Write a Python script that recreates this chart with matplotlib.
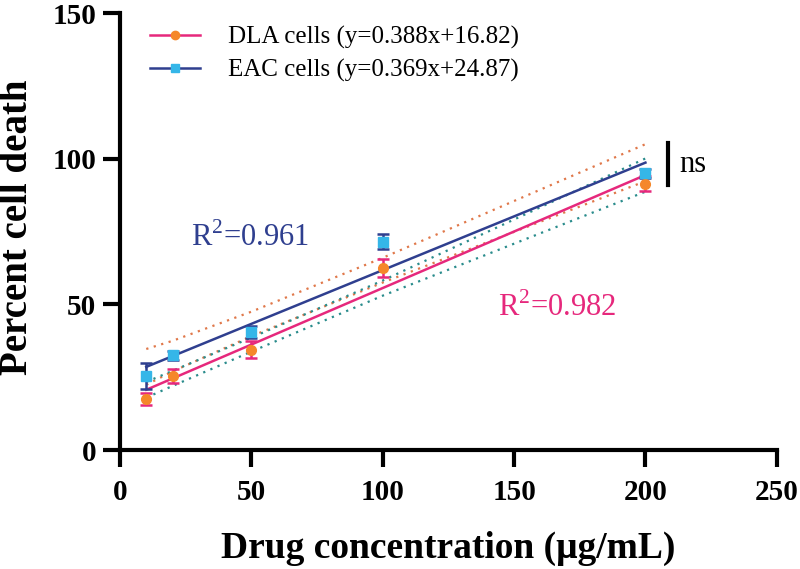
import matplotlib
matplotlib.use("Agg")

import numpy as np
import matplotlib.pyplot as plt

plt.rcParams["font.family"] = ["Liberation Serif", "DejaVu Serif"]
plt.rcParams["mathtext.fontset"] = "custom"
plt.rcParams["mathtext.rm"] = "Liberation Serif"

# ── data ─────────────────────────────────────────────────────────────
conc = [10, 20, 50, 100, 200]

dla_mean = [17.5, 25.5, 34.5, 62.5, 91.5]
dla_err = [2.0, 2.5, 3.0, 3.0, 2.5]
eac_mean = [25.5, 32.5, 40.5, 71.5, 95.0]
eac_err = [4.5, 1.5, 2.0, 2.5, 1.5]

dla_slope, dla_icpt, dla_r2 = 0.388, 16.82, 0.982
eac_slope, eac_icpt, eac_r2 = 0.369, 24.87, 0.961

# 95% bands (dotted), at the same concentrations
dla_band_lo = [18.0, 22.0, 33.8, 53.0, 88.7]
dla_band_hi = [23.4, 27.2, 38.6, 58.2, 100.1]
eac_band_lo = [22.4, 27.0, 39.1, 57.5, 92.3]
eac_band_hi = [34.7, 37.5, 47.5, 66.0, 105.0]

PINK = "#E6287C"
NAVY = "#2F3F8F"
ORANGE = "#F5872A"
CYAN = "#35B6E8"
DOT_ORANGE = "#E0784A"
DOT_TEAL = "#2A8C8C"

fig = plt.figure(figsize=(8, 5.69), dpi=100)
ax = fig.add_axes([0.15, 0.209, 0.821, 0.768])

x = np.array(conc)
xf = np.array([conc[0], conc[-1]])

# dotted bands
dots = (0, (1, 2.5))
ax.plot(x, eac_band_hi, color=DOT_ORANGE, ls=dots, lw=1.6)
ax.plot(x, eac_band_lo, color=DOT_ORANGE, ls=dots, lw=1.6)
ax.plot(x, dla_band_hi, color=DOT_TEAL, ls=dots, lw=1.6)
ax.plot(x, dla_band_lo, color=DOT_TEAL, ls=dots, lw=1.6)

# fit lines
ax.plot(xf, dla_slope * xf + dla_icpt, color=PINK, lw=1.8)
ax.plot(xf, eac_slope * xf + eac_icpt, color=NAVY, lw=1.8)

# points with error bars
ax.errorbar(conc, dla_mean, yerr=dla_err, fmt="o", color=ORANGE, ecolor=PINK,
            ms=7, capsize=4, elinewidth=1.8, capthick=1.8, zorder=4)
ax.errorbar(conc, eac_mean, yerr=eac_err, fmt="s", color=CYAN, ecolor=NAVY,
            ms=7, capsize=4, elinewidth=1.8, capthick=1.8, zorder=4)

# legend handles
h1, = ax.plot([], [], color=PINK, lw=1.8, marker="o", ms=6, mfc=ORANGE, mec=ORANGE)
h2, = ax.plot([], [], color=NAVY, lw=1.8, marker="s", ms=6, mfc=CYAN, mec=CYAN)
ax.legend([h1, h2],
          [f"DLA cells (y={dla_slope}x+{dla_icpt})",
           f"EAC cells (y={eac_slope}x+{eac_icpt})"],
          loc="upper left", bbox_to_anchor=(0.027, 1.0), frameon=False,
          fontsize=18, handlelength=2.0, handletextpad=1.1, labelspacing=0.42,
          borderpad=0.1, borderaxespad=0.4)

# R² labels
ax.text(27, 70, f"R$^{{2}}$={eac_r2:.3f}", color=NAVY, fontsize=22)
ax.text(144, 46, f"R$^{{2}}$={dla_r2:.3f}", color=PINK, fontsize=22)

# ns marker
ax.plot([208.5, 208.5], [91, 105.5], color="black", lw=3, clip_on=False)
ax.text(213, 98, "ns", fontsize=22, va="center")

# axes styling
ax.set_xlim(0, 250)
ax.set_ylim(0, 150)
ax.set_xticks([0, 50, 100, 150, 200, 250])
ax.set_yticks([0, 50, 100, 150])
for side in ("top", "right"):
    ax.spines[side].set_visible(False)
for side in ("left", "bottom"):
    ax.spines[side].set_linewidth(3)
ax.tick_params(width=3, length=12, labelsize=21)
ax.tick_params(axis="x", pad=9)
ax.tick_params(axis="y", pad=5)
for lab in ax.get_xticklabels() + ax.get_yticklabels():
    lab.set_fontweight("bold")

ax.set_xlabel("Drug concentration (\u03bcg/mL)", fontsize=27, fontweight="bold")
ax.set_ylabel("Percent cell death", fontsize=28, fontweight="bold")
ax.xaxis.set_label_coords(0.5, -0.185)
ax.yaxis.set_label_coords(-0.128, 0.51)

fig.savefig("out.png", dpi=100, facecolor="white")
